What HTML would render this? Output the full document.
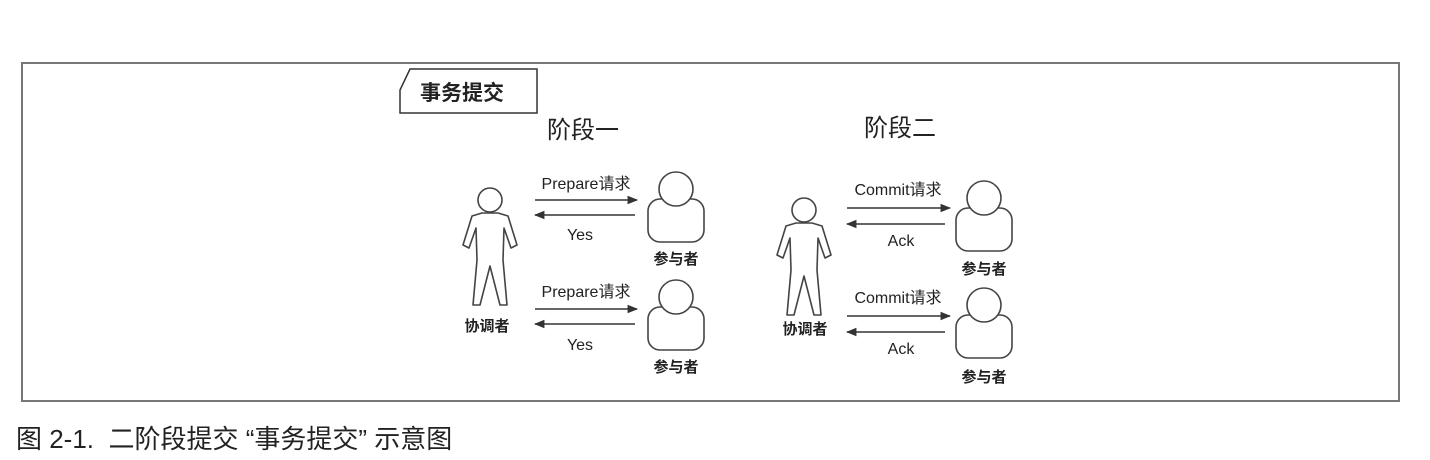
<!DOCTYPE html>
<html><head><meta charset="utf-8"><style>
html,body{margin:0;padding:0;background:#fff;}
svg{display:block;}
text{font-family:"Liberation Sans","Noto Sans CJK SC",sans-serif;fill:#222;}
</style></head><body>
<svg width="1430" height="460" viewBox="0 0 1430 460" xmlns="http://www.w3.org/2000/svg">
<defs>
<marker id="ah" viewBox="0 0 10 10" refX="9" refY="5" markerWidth="7" markerHeight="7" orient="auto-start-reverse"><path d="M0,1 L10,5 L0,9 z" fill="#333"/></marker>
<g id="man" fill="#fff" stroke="#444" stroke-width="1.6" stroke-linejoin="round">
<circle cx="0" cy="0" r="12"/>
<path d="M-8,13 L-18,16 L-27,45 L-21,48 L-14,28 L-13,60 L-17,105 L-10,105 L0,66 L10,105 L17,105 L13,60 L14,28 L21,48 L27,45 L18,16 L8,13 Z"/>
</g>
<g id="part" fill="#fff" stroke="#444" stroke-width="1.6">
<rect x="-28" y="10" width="56" height="43" rx="12"/>
<circle cx="0" cy="0" r="17"/>
</g>
</defs>
<rect x="22" y="63" width="1377" height="338" fill="none" stroke="#777" stroke-width="2"/>
<path d="M410,69 L537,69 L537,113 L400,113 L400,90 Z" fill="none" stroke="#333" stroke-width="1.5"/>
<text x="420" y="100" font-size="21" font-weight="bold" fill="#333">事务提交</text>
<text x="547" y="138" font-size="24" fill="#444">阶段一</text>
<text x="864" y="136" font-size="24" fill="#444">阶段二</text>

<use href="#man" x="490" y="200"/>
<text x="487" y="331" font-size="15" text-anchor="middle" font-weight="bold">协调者</text>
<line x1="535" y1="200" x2="637" y2="200" stroke="#333" stroke-width="1.5" marker-end="url(#ah)"/>
<line x1="635" y1="215" x2="535" y2="215" stroke="#333" stroke-width="1.5" marker-end="url(#ah)"/>
<text x="586" y="189" font-size="16" text-anchor="middle">Prepare请求</text>
<text x="580" y="240" font-size="16" text-anchor="middle">Yes</text>
<use href="#part" x="676" y="189"/>
<text x="676" y="264" font-size="15" text-anchor="middle" font-weight="bold">参与者</text>
<line x1="535" y1="309" x2="637" y2="309" stroke="#333" stroke-width="1.5" marker-end="url(#ah)"/>
<line x1="635" y1="324" x2="535" y2="324" stroke="#333" stroke-width="1.5" marker-end="url(#ah)"/>
<text x="586" y="297" font-size="16" text-anchor="middle">Prepare请求</text>
<text x="580" y="350" font-size="16" text-anchor="middle">Yes</text>
<use href="#part" x="676" y="297"/>
<text x="676" y="372" font-size="15" text-anchor="middle" font-weight="bold">参与者</text>

<use href="#man" x="804" y="210"/>
<text x="805" y="334" font-size="15" text-anchor="middle" font-weight="bold">协调者</text>
<line x1="847" y1="208" x2="950" y2="208" stroke="#333" stroke-width="1.5" marker-end="url(#ah)"/>
<line x1="945" y1="224" x2="847" y2="224" stroke="#333" stroke-width="1.5" marker-end="url(#ah)"/>
<text x="898" y="195" font-size="16" text-anchor="middle">Commit请求</text>
<text x="901" y="246" font-size="16" text-anchor="middle">Ack</text>
<use href="#part" x="984" y="198"/>
<text x="984" y="274" font-size="15" text-anchor="middle" font-weight="bold">参与者</text>
<line x1="847" y1="316" x2="950" y2="316" stroke="#333" stroke-width="1.5" marker-end="url(#ah)"/>
<line x1="945" y1="332" x2="847" y2="332" stroke="#333" stroke-width="1.5" marker-end="url(#ah)"/>
<text x="898" y="303" font-size="16" text-anchor="middle">Commit请求</text>
<text x="901" y="354" font-size="16" text-anchor="middle">Ack</text>
<use href="#part" x="984" y="305"/>
<text x="984" y="382" font-size="15" text-anchor="middle" font-weight="bold">参与者</text>

<text x="16" y="448" font-size="26" fill="#222" xml:space="preserve">图 2-1.  二阶段提交 “事务提交” 示意图</text>
</svg>
</body></html>
